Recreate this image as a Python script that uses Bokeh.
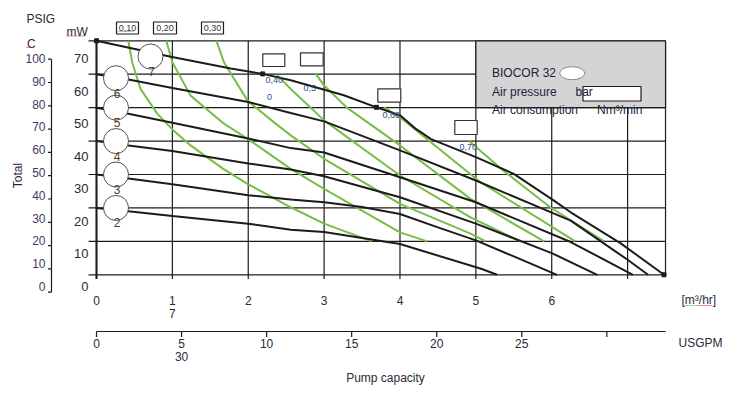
import math
from bokeh.plotting import figure
from bokeh.models import Range1d
from bokeh.core.properties import value
from bokeh.embed import file_html
from bokeh.resources import INLINE

# ---------------- data ----------------
flow_ticks = [0, 1, 2, 3, 4, 5, 6, 7]          # m3/hr
flow_labels = ["0", "1", "2", "3", "4", "5", "6"]
head_ticks = [0, 10, 20, 30, 40, 50, 60, 70]    # mW
head_labels = ["0", "10", "20", "30", "40", "50", "60", "70"]
psig_ticks = [0, 10, 20, 30, 40, 50, 60, 70, 80, 90, 100]
psig_labels = [str(v) for v in psig_ticks]
usgpm_ticks = [0, 5, 10, 15, 20, 25, 30]
usgpm_labels = ["0", "5", "10", "15", "20", "25", ""]
usgpm_per_m3h = 4.46   # scale used by the printed sheet

pressures = ["2", "3", "4", "5", "6", "7"]      # bar

q2 = [0, 0.42, 1, 2, 2.56, 3, 4, 5.07, 5.28]
h2 = [20, 19, 17.6, 15.3, 13.5, 12.8, 9.2, 1.8, 0]
q3 = [0, 0.42, 1, 2, 2.56, 3, 3.5, 4, 4.5, 5.0, 5.5, 6.07]
h3 = [30, 28.8, 27.1, 23.8, 22.5, 21.7, 20.3, 18.2, 14.2, 10.3, 5.5, 0]
q4 = [0, 0.42, 1, 2, 2.56, 3, 4, 5, 6, 6.6]
h4 = [40, 38.7, 37, 33.3, 31.5, 29.5, 23.2, 15.3, 6.5, 0]
q5 = [0, 0.42, 1, 2, 2.56, 3, 4, 5, 6.25, 7.07]
h5 = [50, 48.2, 45.5, 40.8, 37.9, 36.6, 29.2, 21.7, 9.8, 0]
q6 = [0, 0.42, 1, 2, 2.56, 3, 4, 5, 6.25, 7.0, 7.27]
h6 = [60, 58.4, 55.9, 51.7, 48.4, 45.9, 37.2, 28.2, 16.2, 4.5, 0]
q7 = [0, 0.98, 1.77, 2.19, 2.56, 3.26, 3.69, 4.0, 4.2, 4.41, 5.0, 5.5, 6.03, 6.25, 6.91, 7.48]
h7 = [70, 65.2, 61.7, 60.1, 58.2, 53.7, 50.1, 47.7, 43.8, 40.6, 35.2, 30.2, 22.2, 18.7, 9.4, 0]

# air consumption lines (Nm3/min)
air_labels = ["0,10", "0,20", "0,30", "0,40", "0,5", "0,60", "0,70"]
ga_q = [0.42, 0.47, 0.58, 0.80, 1.0, 1.24, 1.67, 1.99, 2.56, 3.0, 3.63]
ga_h = [70, 63.6, 55.6, 48.2, 43.5, 38.7, 31.7, 27.2, 20.2, 15.3, 10]
gb_q = [0.92, 1.0, 1.24, 1.68, 1.99, 2.56, 3.0, 4.0, 4.36]
gb_h = [70, 63.6, 53.6, 45.2, 40.7, 31.7, 25.7, 12.7, 10]
gc_q = [1.58, 1.68, 1.99, 2.34, 2.56, 3.0, 4.0, 4.93, 5.13]
gc_h = [70, 63.6, 52.1, 45.6, 41.7, 34.7, 21.2, 12.3, 10]
gd_q = [2.38, 2.56, 3.0, 4.0, 4.93, 5.59]
gd_h = [59.8, 55.6, 46.2, 29.7, 17.2, 10]
ge_q = [2.89, 3.0, 3.3, 4.0, 4.93, 5.9]
ge_h = [60.1, 56.6, 50, 38.7, 22.7, 10]
gf_q = [3.79, 4.0, 5.06, 6.31]
gf_h = [50.1, 47.1, 27.7, 10]
gg_q = [4.91, 5.36, 5.98, 6.69]
gg_h = [40, 31.2, 20.2, 10]

# ---------------- layout helpers ----------------
W, H = 731, 385
PXQ = 75.87      # px per m3/hr
PXH = 3.343      # px per mW
ORX, ORY = 96, 274.3   # page pixel of (0, 0)
QMAX, HMAX = 7.5, 70


def qx(px):
    return (px - ORX) / PXQ


def hy(py):
    return (ORY - py) / PXH


FONT = value("Liberation Sans")
TXT = "#2a2a35"
BLK = "#1c1c1c"
GRN = "#78bd45"

p = figure(width=W, height=H, title=None,
           x_range=Range1d(qx(0), qx(W)), y_range=Range1d(hy(H), hy(0)),
           output_backend="svg", toolbar_location=None, min_border=0,
           x_axis_type=None, y_axis_type=None)
p.outline_line_color = None
p.background_fill_color = "white"
p.border_fill_color = "white"


def txt(x, y, t, size="12px", align="left", color=TXT, angle=0, baseline="middle"):
    p.text(x=x, y=y, text=t, text_font=FONT, text_font_size=size, text_color=color,
           text_align=align, text_baseline=baseline, angle=angle)


# ---------------- grid ----------------
bot_tick = hy(278.5)
p.segment(x0=flow_ticks, y0=[bot_tick] * len(flow_ticks), x1=flow_ticks,
          y1=[HMAX] * len(flow_ticks), line_color=BLK, line_width=1.2)
p.segment(x0=[QMAX], y0=[0], x1=[QMAX], y1=[HMAX], line_color=BLK, line_width=1.2)
p.segment(x0=[qx(88)] * len(head_ticks), y0=head_ticks, x1=[QMAX] * len(head_ticks),
          y1=head_ticks, line_color=BLK, line_width=1.2)
p.segment(x0=[0], y0=[bot_tick], x1=[0], y1=[HMAX], line_color=BLK, line_width=2)

# info box
p.quad(left=[5], right=[QMAX], bottom=[50], top=[HMAX], fill_color="#d4d4d5",
       line_color=BLK, line_width=1.2)

# ---------------- curves ----------------
for qs, hs in [(ga_q, ga_h), (gb_q, gb_h), (gc_q, gc_h), (gd_q, gd_h),
               (ge_q, ge_h), (gf_q, gf_h), (gg_q, gg_h)]:
    p.line(qs, hs, line_color=GRN, line_width=2)
for qs, hs in [(q2, h2), (q3, h3), (q4, h4), (q5, h5), (q6, h6), (q7, h7)]:
    p.line(qs, hs, line_color=BLK, line_width=2)
p.scatter(x=[q7[0], q7[3], q7[6], q7[-1]], y=[h7[0], h7[3], h7[6], h7[-1]],
          marker="square", size=4, color=BLK)

# pressure circles
circ_q = [qx(115.5)] * 5 + [qx(150)]
circ_h = [20, 30, 40, 50, 58.8, 65.3]
p.scatter(x=circ_q, y=circ_h, marker="circle", size=25, fill_color="white",
          line_color="#505050", line_width=1)
txt([c + 1 / PXQ for c in circ_q], [h - 15 / PXH for h in circ_h], pressures,
    size="12px", align="center", color="#5a3b1e")

# ---------------- axes (drawn) ----------------
# m3/hr
txt(flow_ticks[:7], [hy(299.5)] * 7, flow_labels, align="center")
txt([1], [hy(312.5)], ["7"], align="center")
txt([qx(681)], [hy(299.5)], ["[m³/hr]"], align="left")
p.segment(x0=[qx(684)], y0=[hy(305)], x1=[qx(697)], y1=[hy(305)], line_color="#44aa44",
          line_width=1, line_dash="1 1")
p.segment(x0=[qx(698)], y0=[hy(305)], x1=[qx(711)], y1=[hy(305)], line_color="#dd2222",
          line_width=1, line_dash="1 1")

# mW
txt([qx(88)] * 8, [hy(286 - v * 3.257) for v in head_ticks], head_labels,
    size="13px", align="right")
txt([qx(66)], [hy(31)], ["mW"], size="12px")
p.segment(x0=[qx(66)], y0=[hy(35.5)], x1=[qx(84)], y1=[hy(35.5)], line_color="#dd2222",
          line_width=1, line_dash="1 1")

# PSIG
psi_tick_h = [hy(291.7 - v * 2.33) for v in psig_ticks]
p.segment(x0=[qx(51)], y0=[psi_tick_h[0]], x1=[qx(51)], y1=[psi_tick_h[-1]],
          line_color=BLK, line_width=1.2)
p.segment(x0=[qx(47.5)] * len(psig_ticks), y0=psi_tick_h, x1=[qx(51)] * len(psig_ticks),
          y1=psi_tick_h, line_color=BLK, line_width=1.2)
txt([qx(45)] * len(psig_ticks), [hy(286 - v * 2.28) for v in psig_ticks], psig_labels,
    size="12px", align="right", color="#3a4060")
txt([qx(26)], [hy(18.5)], ["PSIG"], size="12px")
txt([qx(26.5)], [hy(43.5)], ["C"], size="12px")
p.segment(x0=[qx(26)], y0=[hy(47)], x1=[qx(33)], y1=[hy(47)], line_color="#dd2222",
          line_width=1, line_dash="1 1")
txt([qx(17.5)], [hy(175)], ["Total"], size="12px", align="center", angle=math.pi / 2)

# USGPM axis
gpm_y = hy(331)
p.segment(x0=[0], y0=[gpm_y], x1=[QMAX], y1=[gpm_y], line_color=BLK, line_width=1.2)
gpm_q = [u / usgpm_per_m3h for u in usgpm_ticks]
p.segment(x0=gpm_q, y0=[gpm_y] * len(gpm_q), x1=gpm_q, y1=[hy(336.5)] * len(gpm_q),
          line_color=BLK, line_width=1.2)
txt(gpm_q, [hy(343)] * len(gpm_q), usgpm_labels, align="center")
txt([5 / usgpm_per_m3h], [hy(356)], ["30"], align="center")
txt([qx(678)], [hy(342)], ["USGPM"], align="left")
txt([qx(385)], [hy(377)], ["Pump capacity"], size="12px", align="center")

# ---------------- label boxes ----------------
top_boxes = [(116, 138), (153, 176), (201, 223)]
p.quad(left=[qx(a) for a, b in top_boxes], right=[qx(b) for a, b in top_boxes],
       bottom=[hy(33.5)] * 3, top=[hy(21.5)] * 3, fill_color="white",
       line_color=BLK, line_width=1.2)
txt([qx((a + b) / 2) for a, b in top_boxes], [hy(27.5)] * 3, air_labels[:3],
    size="9px", align="center", color="#333")
p.segment(x0=[qx(118)], y0=[hy(31)], x1=[qx(134)], y1=[hy(31)], line_color="#44aa44",
          line_width=1, line_dash="1 1")

plot_boxes = [(262.3, 284.3, 53.3, 66), (300, 322.7, 52.3, 65.3),
              (377.3, 400.3, 88.3, 101.7), (454.3, 476.7, 120, 134)]
p.quad(left=[qx(b[0]) for b in plot_boxes], right=[qx(b[1]) for b in plot_boxes],
       top=[hy(b[2]) for b in plot_boxes], bottom=[hy(b[3]) for b in plot_boxes],
       fill_color="white", line_color="#333", line_width=1.2)
txt([qx(265), qx(266.5), qx(303), qx(382), qx(459)],
    [hy(79), hy(96), hy(87.5), hy(114), hy(146)],
    [air_labels[3], "0", air_labels[4], air_labels[5], air_labels[6]],
    size="9px", align="left", color="#2e4f8e")

# info box contents
p.ellipse(x=[qx(571.7)], y=[hy(72.7)], width=[25], height=[13], width_units="screen",
          height_units="screen", fill_color="white", line_color="#8a8a8a", line_width=1)
p.quad(left=[qx(582.5)], right=[qx(640.5)], top=[hy(86)], bottom=[hy(100.5)],
       fill_color="white", line_color=BLK, line_width=1.2)
txt([qx(491.5)], [hy(72)], ["BIOCOR  32"], size="12px", color="#222238")
txt([qx(491.5), qx(575)], [hy(91), hy(91)], ["Air pressure", "bar"], size="12px",
    color="#222238")
txt([qx(491.5), qx(596.5)], [hy(109), hy(109)], ["Air consumption", "Nm³/min"],
    size="12px", color="#222238")

open("out.html", "w").write(file_html(p, INLINE))
